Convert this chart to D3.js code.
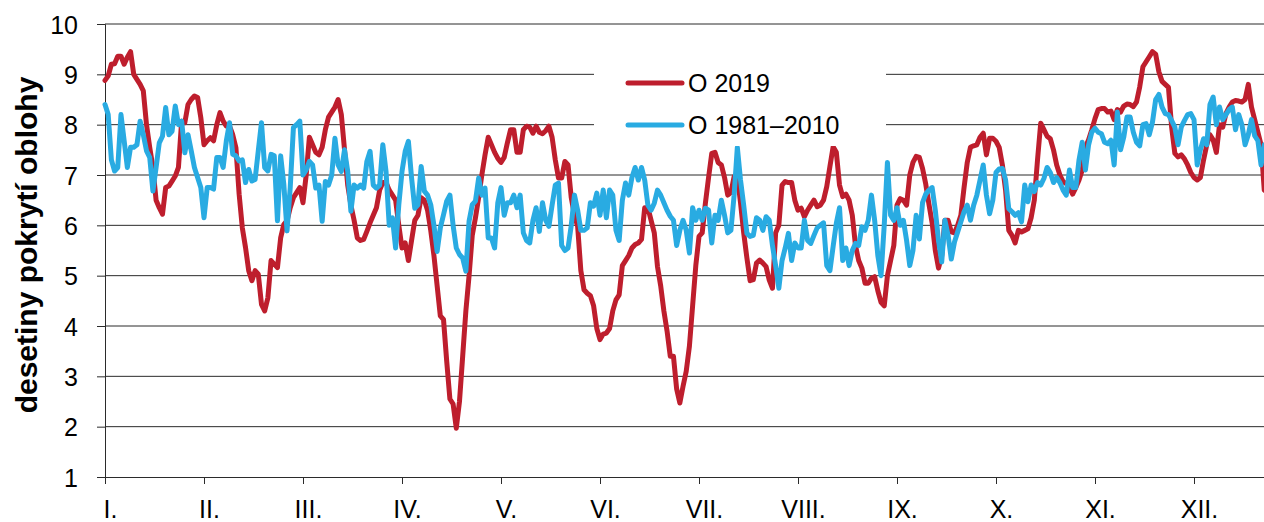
<!DOCTYPE html>
<html>
<head>
<meta charset="utf-8">
<script src="https://cdn.jsdelivr.net/npm/d3@7"></script>
<style>
  body { margin: 0; background: #fff; }
  svg { display: block; }
  text { font-family: "Liberation Sans", Arial, sans-serif; fill: #000; }
</style>
</head>
<body>
<div id="chart"></div>
<script>
// month labels, one every 31 days on the category axis
var months = ["I.", "II.", "III.", "IV.", "V.", "VI.", "VII.", "VIII.", "IX.", "X.", "XI.", "XII."];
var yTicks = [1, 2, 3, 4, 5, 6, 7, 8, 9, 10];
var seriesNames = ["O 2019", "O 1981\u20132010"];

// daily cloud cover (tenths of sky), 2019
var cloud2019 = [
  8.88,8.97,9.2,9.21,9.36,9.36,9.2,9.34,9.45,9.0,
  8.9,8.8,8.67,8.0,7.55,7.15,6.5,6.35,6.22,6.75,
  6.78,6.88,6.98,7.15,8.07,8.04,8.4,8.5,8.57,8.54,
  8.14,7.6,7.68,7.74,7.68,8.0,8.24,8.07,7.97,7.97,
  7.8,7.54,6.62,5.95,5.56,5.1,4.9,5.1,5.03,4.43,
  4.3,4.56,5.3,5.23,5.16,5.75,6.02,6.09,6.35,6.55,
  6.65,6.75,
  6.45,7.0,7.75,7.6,7.45,7.4,7.55,7.9,8.15,8.25,
  8.35,8.5,8.2,7.5,6.8,6.4,6.1,5.75,5.7,5.72,
  5.88,6.05,6.2,6.35,6.7,6.85,6.85,6.7,6.6,6.5,
  6.0,5.55,5.65,5.3,5.7,6.1,6.2,6.55,6.5,6.3,
  5.9,5.4,4.8,4.2,4.13,3.3,2.55,2.45,1.97,2.5,
  3.4,4.3,5.0,5.8,6.15,6.55,7.0,7.4,7.75,7.6,
  7.45,
  7.33,7.25,7.35,7.64,7.9,7.9,7.45,7.45,7.9,7.97,
  7.95,7.83,7.97,7.85,7.82,7.88,7.97,7.75,7.3,6.94,
  6.94,7.27,7.2,6.55,6.2,5.98,5.1,4.72,4.65,4.6,
  4.4,3.95,3.73,3.84,3.86,3.95,4.3,4.52,4.62,5.2,
  5.3,5.4,5.55,5.62,5.65,5.72,6.35,6.35,6.1,5.85,
  5.18,4.8,4.3,3.9,3.4,3.4,2.75,2.47,2.8,3.1,
  3.6,
  4.4,5.2,5.78,5.85,6.44,6.95,7.43,7.45,7.25,7.2,
  6.95,6.6,6.65,6.97,6.98,6.45,5.85,5.35,4.9,4.92,
  5.25,5.31,5.25,5.18,4.91,4.75,5.85,6.0,6.8,6.87,
  6.85,6.85,6.5,6.3,6.34,6.17,6.3,6.4,6.5,6.37,
  6.4,6.5,6.77,7.17,7.56,7.45,6.8,6.57,6.62,6.5,
  6.2,5.6,5.3,5.15,4.85,4.85,4.95,4.98,4.7,4.47,
  4.4,
  5.0,5.3,5.6,6.4,6.53,6.5,6.4,7.0,7.25,7.37,
  7.35,7.13,6.82,6.42,6.05,5.5,5.15,5.4,6.1,6.1,
  5.87,5.85,6.0,6.2,6.75,7.25,7.55,7.58,7.6,7.75,
  7.83,7.4,7.73,7.73,7.67,7.55,7.2,6.7,5.9,5.8,
  5.65,5.9,5.87,5.9,5.93,6.15,6.5,7.3,8.03,7.9,
  7.77,7.72,7.5,7.2,7.0,6.87,6.83,6.75,6.62,6.75,
  6.9,7.1,
  7.55,7.7,7.9,8.12,8.3,8.32,8.32,8.25,8.27,8.1,
  8.3,8.25,8.37,8.41,8.4,8.36,8.45,8.75,9.15,9.25,
  9.35,9.45,9.4,9.05,8.86,8.8,8.74,7.95,7.43,7.36,
  7.4,7.32,7.2,7.05,6.95,6.9,6.95,7.3,7.6,7.8,
  7.7,7.45,8.0,7.95,8.22,8.35,8.45,8.48,8.47,8.45,
  8.5,8.8,8.35,8.1,7.85,7.6,6.7,6.65
];

// daily normal 1981-2010
var cloudNormal = [
  8.4,8.2,7.3,7.08,7.15,8.2,7.68,7.15,7.55,7.55,
  7.6,8.07,7.8,7.48,7.35,6.68,7.15,7.64,7.77,8.34,
  7.8,7.87,8.37,8.0,8.07,7.44,7.8,7.48,7.15,6.95,
  6.75,6.15,6.75,6.75,6.72,7.35,7.35,7.15,7.68,8.04,
  7.41,7.38,7.28,7.3,6.85,7.11,6.88,6.91,7.48,8.04,
  7.15,7.08,7.41,7.38,6.09,7.38,6.81,5.89,6.75,7.94,
  8.0,8.07,
  7.0,7.1,7.27,7.2,6.74,6.8,6.08,6.87,6.8,7.0,
  7.73,7.2,7.07,7.5,7.07,6.28,6.8,6.74,6.8,6.74,
  7.27,7.47,6.8,6.74,6.8,7.6,7.07,6.0,6.15,5.55,
  6.41,7.07,7.47,7.67,6.94,6.34,6.41,7.17,6.68,6.6,
  6.41,6.0,5.48,5.95,6.21,6.48,6.6,6.0,5.55,5.42,
  5.35,5.09,6.08,6.41,6.48,6.94,6.6,6.74,5.75,5.75,
  5.55,
  6.45,6.75,6.2,6.45,6.45,6.6,6.35,6.6,5.85,5.7,
  5.65,6.1,6.35,5.88,6.45,6.1,5.98,6.4,6.8,6.84,
  5.6,5.5,5.55,6.0,6.6,6.3,5.9,5.9,5.95,6.45,
  6.38,6.64,6.2,6.7,6.15,6.7,6.6,5.9,5.7,6.5,
  6.84,6.6,6.95,7.15,6.9,7.15,6.9,6.4,6.3,6.44,
  6.7,6.6,6.45,6.3,6.18,6.1,5.6,5.9,6.1,5.9,
  5.45,
  6.35,6.1,6.3,6.1,6.34,6.3,5.65,6.2,6.1,6.5,
  6.2,5.85,5.9,6.6,7.55,6.9,6.4,5.84,5.78,5.8,
  6.15,6.1,5.9,6.17,6.1,5.6,5.2,4.75,5.3,5.55,
  5.84,5.3,5.65,5.55,5.55,6.1,5.7,5.64,5.8,5.95,
  6.0,6.05,5.2,5.1,5.58,6.04,6.35,5.3,5.55,5.2,
  5.5,5.64,5.6,5.97,5.9,6.1,6.6,6.1,5.4,5.0,
  6.0,
  7.25,6.2,6.1,6.35,6.0,6.1,5.7,5.2,5.5,6.2,
  5.73,6.45,6.62,6.7,6.75,6.3,5.7,5.27,6.1,5.8,
  5.33,5.67,5.87,6.07,6.27,6.4,6.1,6.4,6.6,6.9,
  7.2,6.6,6.23,6.5,7.05,7.12,7.13,6.9,6.33,6.27,
  6.2,6.25,6.07,6.8,6.47,6.8,6.67,6.85,6.8,6.93,
  7.15,7.05,6.85,6.95,6.85,6.7,6.6,7.1,6.75,6.75,
  7.3,7.65,
  7.1,7.6,7.85,7.93,7.85,7.82,7.65,7.62,7.69,7.2,
  8.25,7.5,7.75,8.15,8.15,7.85,7.65,7.58,8.0,8.02,
  7.8,8.05,8.5,8.6,8.35,8.22,8.2,8.08,7.95,7.6,
  7.95,8.08,8.2,8.22,8.1,7.2,7.5,7.72,7.6,8.4,
  8.55,8.0,8.35,8.1,8.2,8.3,8.35,7.9,8.2,8.0,
  7.6,7.8,8.1,7.78,7.68,7.2,7.6,7.5
];

var colors = ["#be1e2d", "#29abe2"];

var W = 1264, H = 522;
var margin = {left: 105, top: 24, bottom: 45};
var dayWidth = 99 / 31;

var svg = d3.select("#chart").append("svg")
  .attr("width", W)
  .attr("height", H);

var x = d3.scaleLinear()
  .domain([0, cloud2019.length - 1])
  .range([margin.left, margin.left + (cloud2019.length - 1) * dayWidth]);

var y = d3.scaleLinear()
  .domain([1, 10])
  .range([H - margin.bottom, margin.top]);

// gridlines
svg.append("g")
  .selectAll("line")
  .data(yTicks.slice(1))
  .enter().append("line")
    .attr("x1", margin.left)
    .attr("x2", W)
    .attr("y1", function(d) { return y(d); })
    .attr("y2", function(d) { return y(d); })
    .attr("stroke", "#2b2b2b")
    .attr("stroke-width", 1);

// y axis
var yAxis = svg.append("g")
  .attr("transform", "translate(" + margin.left + ",0)")
  .call(d3.axisLeft(y).tickValues(yTicks).tickSize(8).tickFormat(d3.format("d")));
yAxis.select(".domain").attr("stroke", "#2b2b2b");
yAxis.selectAll(".tick line").attr("stroke", "#2b2b2b");
yAxis.selectAll("text")
  .attr("x", -27)
  .attr("dy", "0.36em")
  .style("font-size", "25px")
  .style("font-family", "'Liberation Sans', Arial, sans-serif")
  .attr("fill", "#000");

// x axis: ticks every 31 days
var monthStarts = months.map(function(m, i) { return i * 31; });
var xAxis = svg.append("g")
  .attr("transform", "translate(0," + y(1) + ")")
  .call(d3.axisBottom(x).tickValues(monthStarts).tickSize(7)
    .tickFormat(function(d, i) { return months[i]; }));
xAxis.select(".domain").attr("stroke", "#2b2b2b");
xAxis.selectAll(".tick line").attr("stroke", "#2b2b2b");
xAxis.selectAll("text")
  .attr("x", 5)
  .attr("y", 41)
  .attr("dy", 0)
  .style("font-size", "25px")
  .style("font-family", "'Liberation Sans', Arial, sans-serif")
  .attr("fill", "#000");

// series lines
var line = d3.line()
  .x(function(d, i) { return x(i); })
  .y(function(d) { return y(d); });

[cloud2019, cloudNormal].forEach(function(series, k) {
  svg.append("path")
    .datum(series)
    .attr("fill", "none")
    .attr("stroke", colors[k])
    .attr("stroke-width", 5)
    .attr("stroke-linejoin", "round")
    .attr("stroke-linecap", "round")
    .attr("d", line);
});

// legend
var legend = svg.append("g");
legend.append("rect")
  .attr("x", 594).attr("y", 58)
  .attr("width", 292).attr("height", 88)
  .attr("fill", "#fff");
seriesNames.forEach(function(name, k) {
  var ly = 83 + k * 42;
  legend.append("line")
    .attr("x1", 628).attr("x2", 682)
    .attr("y1", ly).attr("y2", ly)
    .attr("stroke", colors[k])
    .attr("stroke-width", 5)
    .attr("stroke-linecap", "round");
  legend.append("text")
    .attr("x", 688)
    .attr("y", ly + 9)
    .style("font-size", "25px")
    .text(name);
});

// y axis title
svg.append("text")
  .attr("transform", "translate(37,245) rotate(-90)")
  .attr("text-anchor", "middle")
  .style("font-size", "30px")
  .style("font-weight", "bold")
  .text("desetiny pokrytí oblohy");
</script>
</body>
</html>
